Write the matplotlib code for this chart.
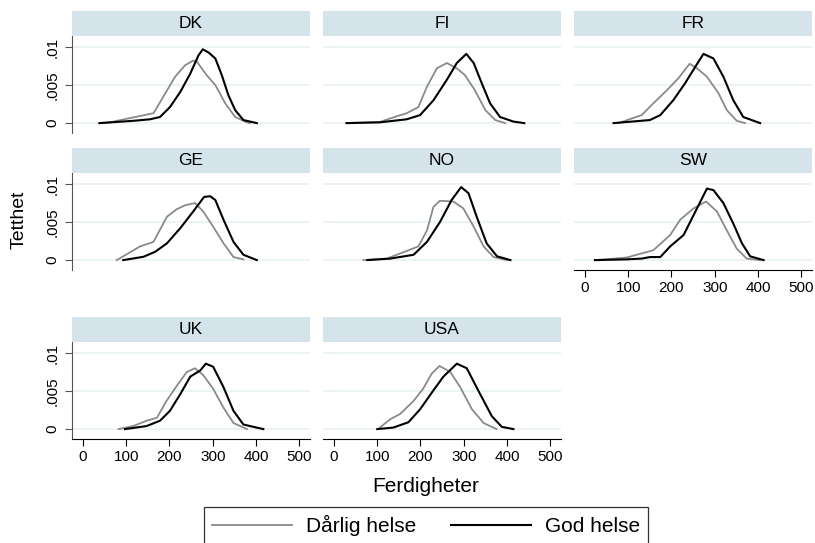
import matplotlib.pyplot as plt

plt.rcParams['font.family'] = ['Liberation Sans', 'DejaVu Sans']

# Kernel density of skills score by self-rated health, per country
countries = ["DK", "FI", "FR", "GE", "NO", "SW", "UK", "USA"]

dk_darlig_x = [38, 62, 116, 163, 186, 213, 236, 254, 263, 286, 306, 329, 352, 379, 386]
dk_darlig_y = [0, 0.0001, 0.00075, 0.0013, 0.0035, 0.0061, 0.0076, 0.0082, 0.0081, 0.0063, 0.005, 0.0026, 0.0008, 0.0001, 0]
dk_god_x = [38, 116, 155, 178, 201, 225, 248, 267, 277, 290, 306, 321, 336, 352, 371, 402]
dk_god_y = [0, 0.0003, 0.0005, 0.0008, 0.0021, 0.0041, 0.0065, 0.0089, 0.0097, 0.0093, 0.0085, 0.0063, 0.0037, 0.0017, 0.0004, 0]

fi_darlig_x = [29, 106, 137, 168, 195, 215, 238, 261, 284, 303, 326, 350, 373, 396]
fi_darlig_y = [0, 0.00015, 0.00075, 0.0013, 0.0021, 0.0048, 0.0072, 0.0079, 0.0072, 0.0063, 0.0043, 0.0017, 0.0004, 0]
fi_god_x = [29, 106, 168, 199, 230, 261, 284, 306, 323, 342, 361, 384, 415, 440]
fi_god_y = [0, 0.0001, 0.0005, 0.00105, 0.003, 0.0057, 0.0079, 0.0091, 0.0079, 0.0052, 0.0026, 0.0008, 0.0002, 0]

fr_darlig_x = [77, 131, 158, 189, 216, 242, 259, 282, 309, 328, 351, 370]
fr_darlig_y = [0, 0.00105, 0.0026, 0.0043, 0.0059, 0.0078, 0.0072, 0.0061, 0.0039, 0.0017, 0.0003, 0]
fr_god_x = [66, 150, 174, 204, 231, 255, 274, 297, 320, 343, 366, 405]
fr_god_y = [0, 0.0004, 0.00105, 0.003, 0.0052, 0.0074, 0.0091, 0.0085, 0.0061, 0.003, 0.0008, 0]

ge_darlig_x = [78, 132, 163, 194, 217, 236, 259, 278, 301, 325, 348, 371]
ge_darlig_y = [0, 0.0018, 0.0024, 0.0057, 0.0067, 0.0072, 0.0075, 0.0064, 0.0044, 0.0022, 0.0004, 0.0001]
ge_god_x = [93, 140, 167, 194, 225, 255, 280, 294, 306, 325, 348, 371, 402]
ge_god_y = [0, 0.00044, 0.0011, 0.0022, 0.0042, 0.0064, 0.0083, 0.0084, 0.0079, 0.0053, 0.0024, 0.0007, 0]

no_darlig_x = [68, 122, 168, 195, 215, 230, 245, 276, 299, 323, 346, 369, 400]
no_darlig_y = [0, 0.0002, 0.0012, 0.0018, 0.0039, 0.007, 0.0078, 0.0077, 0.0068, 0.0044, 0.0018, 0.0004, 0]
no_god_x = [77, 130, 184, 215, 245, 272, 294, 311, 330, 353, 377, 408]
no_god_y = [0, 0.0002, 0.0007, 0.0024, 0.005, 0.0079, 0.0096, 0.0088, 0.0057, 0.0022, 0.0005, 0]

sw_darlig_x = [27, 97, 158, 197, 220, 251, 280, 305, 328, 351, 374, 405]
sw_darlig_y = [0, 0.00035, 0.0013, 0.0033, 0.0053, 0.0068, 0.0077, 0.0064, 0.0039, 0.0015, 0.0002, 0]
sw_god_x = [23, 97, 131, 150, 174, 197, 228, 251, 282, 297, 320, 343, 363, 382, 413]
sw_god_y = [0, 0.0001, 0.0002, 0.0004, 0.0004, 0.0018, 0.0033, 0.0059, 0.0094, 0.0092, 0.0075, 0.0048, 0.0022, 0.0005, 0]

uk_darlig_x = [82, 116, 147, 171, 193, 217, 240, 259, 278, 301, 325, 348, 379]
uk_darlig_y = [0, 0.0004, 0.0011, 0.0015, 0.0037, 0.0057, 0.0075, 0.008, 0.0071, 0.0053, 0.0028, 0.0008, 0]
uk_god_x = [97, 147, 178, 201, 225, 248, 271, 284, 301, 325, 348, 371, 417]
uk_god_y = [0, 0.0004, 0.0011, 0.0024, 0.0046, 0.0069, 0.0077, 0.0086, 0.0082, 0.0055, 0.0024, 0.0006, 0]

usa_darlig_x = [106, 130, 153, 184, 206, 226, 244, 269, 292, 319, 346, 376]
usa_darlig_y = [0.0002, 0.0013, 0.002, 0.0037, 0.0053, 0.0073, 0.0083, 0.0075, 0.0055, 0.0026, 0.0008, 0]
usa_god_x = [100, 137, 172, 199, 230, 253, 284, 307, 338, 365, 388, 415]
usa_god_y = [0, 0.0002, 0.0009, 0.0026, 0.0051, 0.0069, 0.0086, 0.008, 0.0046, 0.0017, 0.0003, 0]

darlig = {
    "DK": (dk_darlig_x, dk_darlig_y), "FI": (fi_darlig_x, fi_darlig_y),
    "FR": (fr_darlig_x, fr_darlig_y), "GE": (ge_darlig_x, ge_darlig_y),
    "NO": (no_darlig_x, no_darlig_y), "SW": (sw_darlig_x, sw_darlig_y),
    "UK": (uk_darlig_x, uk_darlig_y), "USA": (usa_darlig_x, usa_darlig_y),
}
god = {
    "DK": (dk_god_x, dk_god_y), "FI": (fi_god_x, fi_god_y),
    "FR": (fr_god_x, fr_god_y), "GE": (ge_god_x, ge_god_y),
    "NO": (no_god_x, no_god_y), "SW": (sw_god_x, sw_god_y),
    "UK": (uk_god_x, uk_god_y), "USA": (usa_god_x, usa_god_y),
}

x_ticks = [0, 100, 200, 300, 400, 500]
y_ticks = [0, 0.005, 0.01]
y_tick_labels = ["0", ".005", ".01"]

W, H = 815, 543
GRAY = "#8a8a8a"
STRIP = "#d5e3ea"
GRID = "#e8f1f3"

col_left = [72, 323, 574]
row_top = [36, 173, 342]
panel_w, panel_h, strip_h = 238, 97, 25
x_axis_panels = {"SW", "UK", "USA"}


def px_rect(left, top, width, height):
    return [left / W, 1 - (top + height) / H, width / W, height / H]


fig = plt.figure(figsize=(W / 100, H / 100), dpi=100)

for i, c in enumerate(countries):
    row, col = divmod(i, 3)
    left, top = col_left[col], row_top[row]

    # strip with country name
    sax = fig.add_axes(px_rect(left, top - strip_h, panel_w, strip_h))
    sax.set_facecolor(STRIP)
    sax.set_xticks([])
    sax.set_yticks([])
    for s in sax.spines.values():
        s.set_visible(False)
    sax.text(0.5, 0.5, c, ha="center", va="center", fontsize=12.5, transform=sax.transAxes)

    ax = fig.add_axes(px_rect(left, top, panel_w, panel_h))
    ax.plot(*darlig[c], color=GRAY, lw=1.3, solid_joinstyle="round")
    ax.plot(*god[c], color="black", lw=1.5, solid_joinstyle="round")
    ax.set_xlim(-25.5, 525)
    ax.set_ylim(-0.0013, 0.01145)
    ax.set_yticks(y_ticks)
    ax.set_yticklabels(y_tick_labels, rotation=90, va="center")
    ax.set_xticks(x_ticks)
    ax.grid(axis="y", color=GRID, lw=1.2)
    ax.set_axisbelow(True)
    for s in ["top", "right"]:
        ax.spines[s].set_visible(False)

    if col == 0:
        ax.spines["left"].set_color("#555555")
        ax.tick_params(axis="y", length=5, color="#555555", labelsize=11, pad=4)
    else:
        ax.spines["left"].set_visible(False)
        ax.tick_params(axis="y", left=False, labelleft=False)

    if c in x_axis_panels:
        ax.spines["bottom"].set_color("black")
        ax.tick_params(axis="x", length=5, labelsize=11, pad=3)
    else:
        ax.spines["bottom"].set_visible(False)
        ax.tick_params(axis="x", bottom=False, labelbottom=False)

fig.text(19 / W, 1 - 220 / H, "Tetthet", rotation=90, ha="center", va="center", fontsize=14)
fig.text(426 / W, 1 - 486 / H, "Ferdigheter", ha="center", va="center", fontsize=15)

handles = [
    plt.Line2D([], [], color=GRAY, lw=1.3),
    plt.Line2D([], [], color="black", lw=1.5),
]
leg = fig.legend(handles, ["Dårlig helse", "God helse"], ncol=2,
                 loc="upper center", bbox_to_anchor=(426 / W, 1 - 507 / H),
                 borderaxespad=0, fontsize=15, frameon=True, fancybox=False,
                 handlelength=3.85, columnspacing=1.7, borderpad=0.4,
                 handletextpad=0.65)
leg.get_frame().set_edgecolor("black")
leg.get_frame().set_linewidth(0.9)

fig.savefig("out.png", dpi=100)
